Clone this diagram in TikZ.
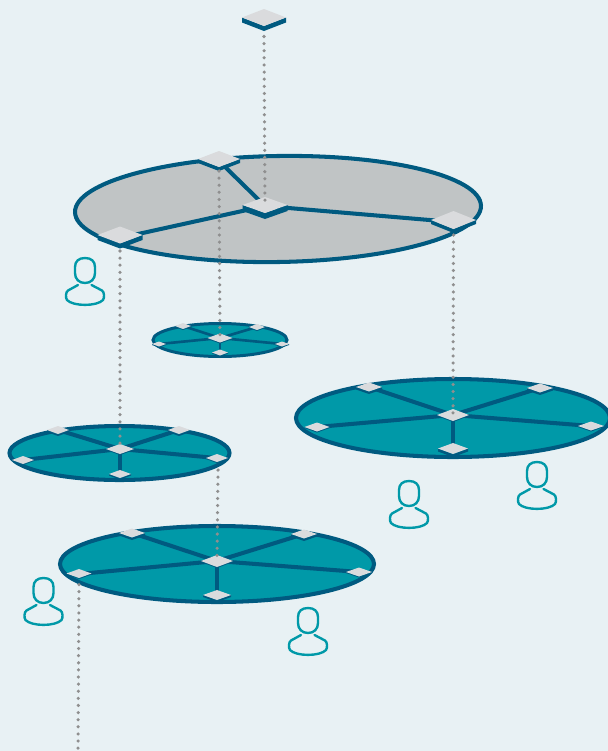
\documentclass[tikz,border=0pt]{standalone}
\definecolor{bgc}{HTML}{E8F1F4}
\definecolor{navy}{HTML}{005A80}
\definecolor{teal}{HTML}{0099A8}
\definecolor{disc}{HTML}{C0C4C5}
\definecolor{topc}{HTML}{DADBDD}
\definecolor{dotc}{HTML}{8F8F8F}
\tikzset{
  x=0.02cm,y=-0.02cm,
  discgray/.style={draw=navy,fill=disc,line width=2.3pt},
  discteal/.style={draw=navy,fill=teal,line width=2.3pt},
  discsmall/.style={draw=navy,fill=teal,line width=1.7pt},
  linkbig/.style={draw=navy,line width=2.3pt},
  linksmall/.style={draw=navy,line width=1.5pt},
  uplink/.style={draw=dotc,line width=2pt,line cap=round,dash pattern=on 0pt off 4.05pt},
  person/.style={draw=teal,line width=1.35pt,line cap=round,line join=round},
}
% name, x, y, half width, half height, thickness
\newcommand\sw[6]{%
  \coordinate (#1) at (#2,#3);
  \fill[navy] (#2-#4,#3) -- (#2,#3+#5) -- (#2+#4,#3) -- (#2+#4,#3+#6) -- (#2,#3+#5+#6) -- (#2-#4,#3+#6) -- cycle;
  \fill[topc] (#2-#4,#3) -- (#2,#3-#5) -- (#2+#4,#3) -- (#2,#3+#5) -- cycle;
}
\newcommand\spokes[2]{%
  \foreach \n in {a,b,c,d,e} \draw[#2] (#1) -- (#1\n);
}
% centre x, head top y
\newcommand\usr[2]{%
  \begin{scope}[shift={(#1,#2)}]
    \draw[person] (-10,9) .. controls (-10,3) and (-6,0) .. (0,0) .. controls (6,0) and (10,3) .. (10,9)
      -- (10,15) .. controls (10,21) and (6,25) .. (0,25) .. controls (-6,25) and (-10,21) .. (-10,15) -- cycle;
    \draw[person] (-7,27) -- (-17,32.5) .. controls (-19.5,34) and (-19.5,40) .. (-18,42)
      .. controls (-12,48.5) and (12,48.5) .. (18,42) .. controls (19.5,40) and (19.5,34) .. (17,32.5) -- (6.5,27);
  \end{scope}
}
\begin{document}
\begin{tikzpicture}
\useasboundingbox (0,0) rectangle (608,751);
\clip (0,0) rectangle (608,751);
\fill[bgc] (0,0) rectangle (608,751);

% coordinates of the link ends
\coordinate (ga) at (219,161); \coordinate (gb) at (120,238); \coordinate (gc) at (453,222);
\coordinate (ca) at (183,326); \coordinate (cb) at (257,327); \coordinate (cc) at (159,344); \coordinate (cd) at (282,344); \coordinate (ce) at (220,353);
\coordinate (ra) at (369,387); \coordinate (rb) at (540,388); \coordinate (rc) at (317,427); \coordinate (rd) at (591,426); \coordinate (re) at (453,449);
\coordinate (la) at (58,430); \coordinate (lb) at (179,430); \coordinate (lc) at (23,460); \coordinate (ld) at (216,458); \coordinate (le) at (120,474);
\coordinate (ba) at (132,533); \coordinate (bb) at (304,534); \coordinate (bc) at (79,574); \coordinate (bd) at (359,572); \coordinate (be) at (217,595);
\coordinate (g) at (265,206); \coordinate (c) at (220,338); \coordinate (r) at (453,415); \coordinate (l) at (120,449); \coordinate (b) at (217,561);

% discs
\draw[discgray,rotate around={0.9:(278,209)}] (278,209) ellipse (203 and 53);
\draw[discsmall] (220,340) ellipse (67 and 16.5);
\draw[discteal] (453,418) ellipse (157 and 39);
\draw[discteal] (119.5,453) ellipse (110 and 27);
\draw[discteal] (217,564) ellipse (157 and 38);

% spokes
\foreach \n in {a,b,c} \draw[linkbig] (g) -- (g\n);
\spokes{c}{linksmall}
\spokes{r}{linkbig}
\spokes{l}{linkbig}
\spokes{b}{linkbig}

% switches
\sw{top}{264}{17.5}{22}{8.5}{5}
\sw{s1}{219}{159}{21}{8}{4}
\sw{s2}{120}{235}{22.5}{8.5}{5}
\sw{s3}{453.5}{220}{22.5}{9}{4}
\sw{s4}{265}{205}{22.5}{8}{6}

\sw{c0}{220}{338}{12.5}{4.5}{1}
\sw{c1}{183}{326}{8}{3}{1}
\sw{c2}{257}{327}{8}{3}{1}
\sw{c3}{159}{344}{7}{2.5}{1}
\sw{c4}{282}{344}{7}{2.5}{1}
\sw{c5}{220}{352.5}{8}{3}{1}

\sw{r0}{453}{415}{16}{6}{1}
\sw{r1}{369}{387}{13}{4.5}{2.5}
\sw{r2}{540}{388}{13}{4.5}{2.5}
\sw{r3}{317}{427}{12.5}{4.5}{1}
\sw{r4}{591}{426}{13}{4.5}{1}
\sw{r5}{453}{448.5}{15}{5.5}{3}

\sw{l0}{120}{449}{14}{5}{1}
\sw{l1}{58}{430}{11}{4}{2}
\sw{l2}{179}{430}{11}{4}{2}
\sw{l3}{23}{460}{11}{4}{1}
\sw{l4}{217}{458}{11}{4}{1}
\sw{l5}{120}{474}{11}{4}{1.5}

\sw{b0}{217}{561}{16}{6}{1}
\sw{b1}{132}{533}{13}{4.5}{2.5}
\sw{b2}{304}{534}{13}{4.5}{2.5}
\sw{b3}{79}{573.5}{12.5}{4.5}{1}
\sw{b4}{359}{572}{13}{4.5}{1}
\sw{b5}{217}{595}{14}{5}{2}

% uplinks
\coordinate (free) at (78,751);
\draw[uplink] (top) ++(0,19) -- (s4);
\draw[uplink] (s1) ++(0,12) -- (c0);
\draw[uplink] (s2) ++(0,16) -- (l0);
\draw[uplink] (s3) ++(0,15) -- (r0);
\draw[uplink] (l4) ++(1,12) -- (b0);
\draw[uplink] (b3) ++(0,11) -- (free);

% people
\usr{85}{258}
\usr{409}{481}
\usr{537}{462}
\usr{43.5}{578}
\usr{308}{608}
\end{tikzpicture}
\end{document}
